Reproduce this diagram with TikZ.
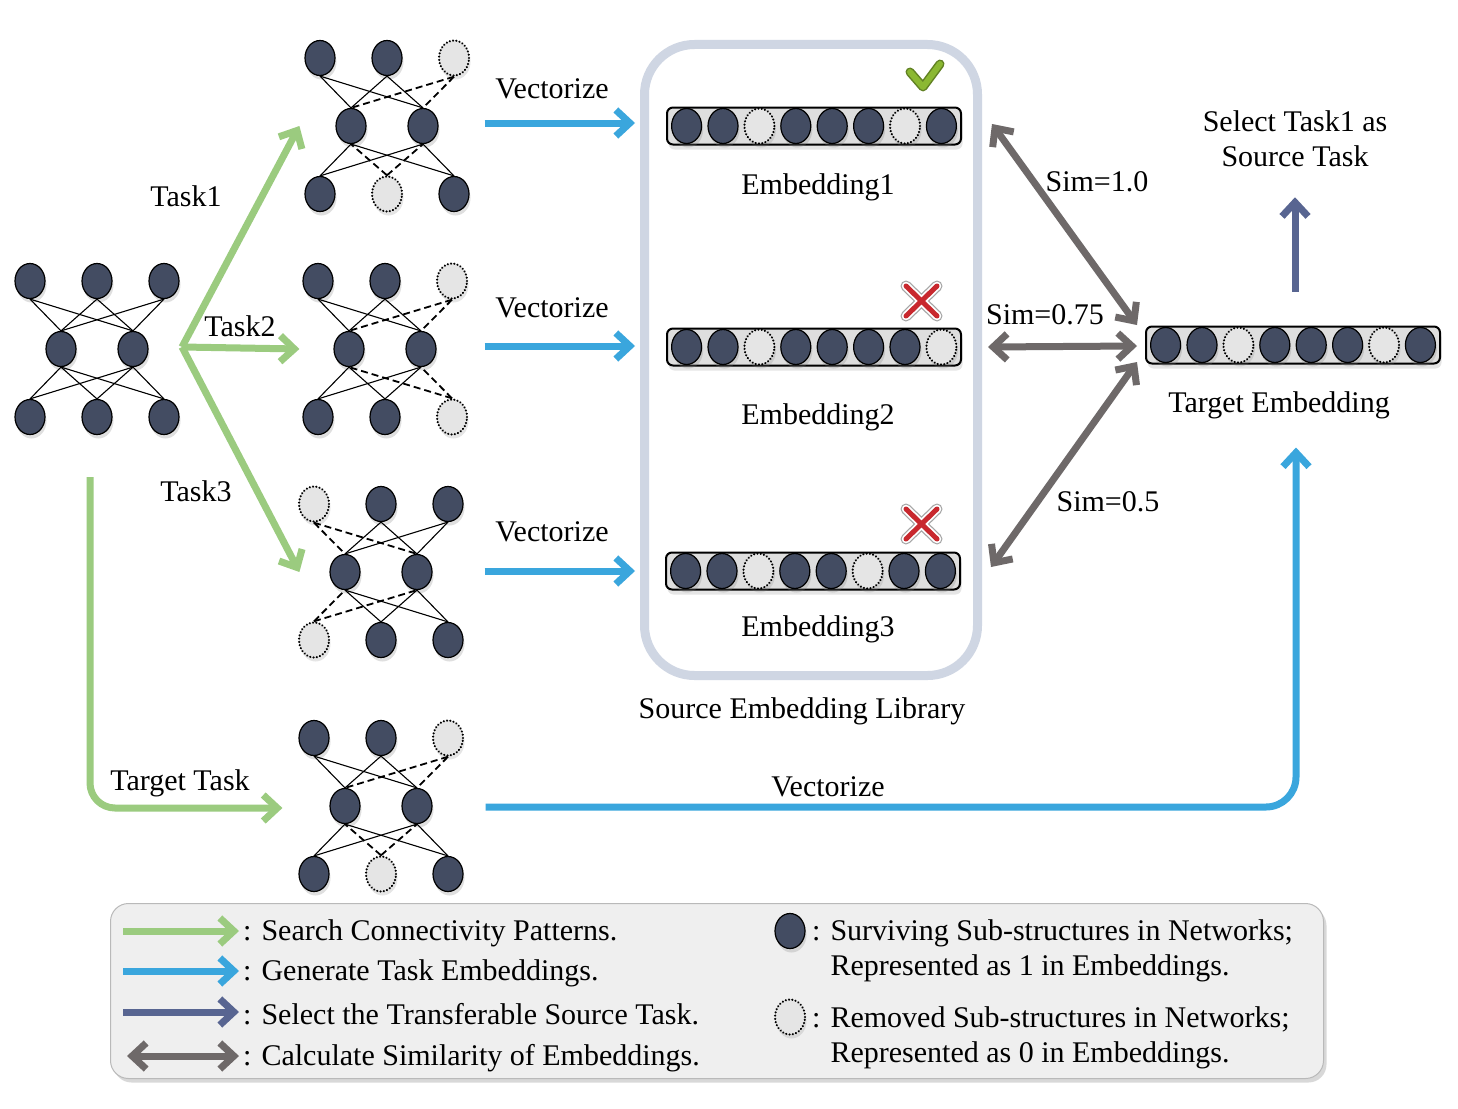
\documentclass[tikz,border=0pt]{standalone}
\usepackage{fontspec}
\setmainfont{Liberation Serif}
\usetikzlibrary{shapes.geometric,arrows.meta,positioning,calc,shadows}

\definecolor{searchgreen}{RGB}{155,203,127}
\definecolor{genblue}{RGB}{58,166,221}
\definecolor{selslate}{RGB}{88,101,145}
\definecolor{simgray}{RGB}{110,105,105}
\definecolor{unitdark}{RGB}{67,76,98}
\definecolor{unitlight}{RGB}{229,229,229}
\definecolor{barfill}{RGB}{222,222,222}
\definecolor{libframe}{RGB}{207,214,227}
\definecolor{legendfill}{RGB}{239,239,239}
\definecolor{checkgreen}{RGB}{139,184,50}
\definecolor{crossred}{RGB}{200,40,46}

% one small network: name, centre, top row, bottom row
\newcommand{\drawnet}[4]{%
  \begin{scope}[shift={#2}]
    \node[live] (#1-m1) at (-36,0) {};
    \node[live] (#1-m2) at (36,0) {};
    \foreach \s [count=\i] in {#3} {
      \node[\s] (#1-t\i) at ({(\i-2)*67},-68) {};
      \foreach \j in {1,2}
        \draw[\s link] (#1-t\i.south) -- (#1-m\j.north);
    }
    \foreach \s [count=\i] in {#4} {
      \node[\s] (#1-b\i) at ({(\i-2)*67},68) {};
      \foreach \j in {1,2}
        \draw[\s link] (#1-b\i.north) -- (#1-m\j.south);
    }
  \end{scope}}

% one embedding bar: name, centre, cells
\newcommand{\drawemb}[3]{%
  \node[bar] (#1) at #2 {};
  \foreach \s [count=\i] in {#3}
    \node[\s] (#1-c\i) at ($(#1)+({(\i-4.5)*36.4},0)$) {};}

\begin{document}
\begin{tikzpicture}[
    x=1pt, y=-1pt,
    txt/.style={font=\fontsize{30}{35}\selectfont, inner sep=0pt},
    live/.style={ellipse, draw=black, line width=1.2pt, fill=unitdark,
      minimum width=30pt, minimum height=35pt, inner sep=0pt,
      drop shadow={shadow xshift=1.5pt, shadow yshift=-4pt, opacity=0.25}},
    dead/.style={ellipse, draw=black, line width=2.4pt, line cap=round,
      dash pattern=on 0.01pt off 3.3pt, fill=unitlight,
      minimum width=30pt, minimum height=35pt, inner sep=0pt,
      drop shadow={shadow xshift=1.5pt, shadow yshift=-4pt, opacity=0.2}},
    livelink/.style={draw=black, line width=1.1pt},
    deadlink/.style={draw=black, line width=1.8pt, dash pattern=on 7pt off 4pt},
    bar/.style={draw=black, line width=2pt, fill=barfill, rounded corners=6pt,
      minimum width=294pt, minimum height=37pt,
      drop shadow={shadow xshift=1.5pt, shadow yshift=-5pt, opacity=0.2}},
    library/.style={draw=libframe, line width=9pt, rounded corners=50pt,
      minimum width=333pt, minimum height=631pt},
    legendbox/.style={draw=gray!55, line width=1pt, fill=legendfill,
      rounded corners=18pt, minimum width=1213pt, minimum height=175pt,
      drop shadow={shadow xshift=3pt, shadow yshift=-4pt, opacity=0.3}},
    searcharrow/.style={draw=searchgreen, line width=7pt, -{Straight Barb[length=14pt, width=26pt]}},
    genarrow/.style={draw=genblue, line width=7pt, -{Straight Barb[length=14pt, width=26pt]}},
    selarrow/.style={draw=selslate, line width=7pt, -{Straight Barb[length=14pt, width=26pt]}},
    simarrow/.style={draw=simgray, line width=7pt,
      {Straight Barb[length=14pt, width=26pt]}-{Straight Barb[length=14pt, width=26pt]}}
]
\useasboundingbox (0,0) rectangle (1458,1108);
\fill[white] (0,0) rectangle (1458,1108);

% legend frame and library frame
\node[legendbox] (legend) at (717,991) {};
\node[library] (lib) at (811,360) {};

% networks
\drawnet{src}{(97,349)}{live,live,live}{live,live,live}
\drawnet{task1}{(387,126)}{live,live,dead}{live,dead,live}
\drawnet{task2}{(385,349)}{live,live,dead}{live,live,dead}
\drawnet{task3}{(381,572)}{dead,live,live}{dead,live,live}
\drawnet{target}{(381,806)}{live,live,dead}{live,dead,live}

% embeddings
\drawemb{emb1}{(814,126)}{live,live,dead,live,live,live,dead,live}
\drawemb{emb2}{(814,347)}{live,live,dead,live,live,live,live,dead}
\drawemb{emb3}{(813,571)}{live,live,dead,live,live,dead,live,live}
\drawemb{tgt}{(1293,345)}{live,live,dead,live,live,live,dead,live}

% check and crosses
\draw[checkgreen!70!black, line width=9pt, line cap=round, line join=round]
  (910,72) -- (923,87) -- (940,64);
\draw[checkgreen, line width=6pt, line cap=round, line join=round]
  (910,72) -- (923,87) -- (940,64);
\foreach \cy in {301,524} {
  \foreach \w/\c in {11/gray!70, 8.5/white, 5/crossred}
    \draw[\c, line width=\w pt, line cap=round]
      (906,\cy-15) -- (937,\cy+15) (906,\cy+15) -- (937,\cy-15);
}

% search arrows
\coordinate (fork) at (182,347);
\draw[searcharrow] (fork) -- ($(task1-m1.west)+(-36,0)$);
\draw[searcharrow] (fork) -- ($(task2-m1.west)+(-34,0)$);
\draw[searcharrow] (fork) -- ($(task3-m1.west)+(-30,0)$);
\draw[searcharrow, rounded corners=25pt] ($(src-b2.south)+(-7,42)$) |- ($(target-m1.west)+(-47,2)$);

% vectorize arrows
\draw[genarrow] ($(task1-m2.east)+(46,-3)$) -- ($(lib.west |- task1-m2)+(-5,-3)$);
\draw[genarrow] ($(task2-m2.east)+(48,-3)$) -- ($(lib.west |- task2-m2)+(-5,-3)$);
\draw[genarrow] ($(task3-m2.east)+(52,-1)$) -- ($(lib.west |- task3-m2)+(-5,-1)$);
\draw[genarrow, rounded corners=30pt] ($(target-m2.east)+(53,1)$) -| ($(tgt.south)+(3,83)$);

% similarity arrows
\draw[simarrow] ($(emb1.east)+(30,-2)$) -- ($(tgt.west)+(-8,-20)$);
\draw[simarrow] ($(emb2.east)+(26,0)$) -- ($(tgt.west)+(-8,1)$);
\draw[simarrow] ($(emb3.east)+(30,-4)$) -- ($(tgt.west)+(-8,17)$);

% select arrow
\node[txt, align=center] (sel) at (1295,139) {Select Task1 as\\Source Task};
\draw[selarrow] ($(tgt.north)+(2,-34)$) -- ($(sel.south)+(0,30)$);

% labels
\node[txt] (lbl-task1) at (186,196) {Task1};
\node[txt] (lbl-task2) at (240,326) {Task2};
\node[txt] (lbl-task3) at (196,491) {Task3};
\node[txt] (lbl-target) at (180,783) {Target Task};
\node[txt] (vec1) at (552,89) {Vectorize};
\node[txt] (vec2) at (552,308) {Vectorize};
\node[txt] (vec3) at (552,532) {Vectorize};
\node[txt] (vec4) at (828,787) {Vectorize};
\node[txt] (emb1-lbl) at (818,187) {Embedding1};
\node[txt] (emb2-lbl) at (818,417) {Embedding2};
\node[txt] (emb3-lbl) at (818,629) {Embedding3};
\node[txt] (lib-lbl) at (802,711) {Source Embedding Library};
\node[txt] (tgt-lbl) at (1279,405) {Target Embedding};
\node[txt] (sim1) at (1097,182) {Sim=1.0};
\node[txt] (sim2) at (1045,315) {Sim=0.75};
\node[txt] (sim3) at (1108,502) {Sim=0.5};

% legend entries
\node[txt, anchor=west] (lg-t1) at (243,933) {: Search Connectivity Patterns.};
\node[txt, anchor=west] (lg-t2) at (243,973) {: Generate Task Embeddings.};
\node[txt, anchor=west] (lg-t3) at (243,1014) {: Select the Transferable Source Task.};
\node[txt, anchor=west] (lg-t4) at (243,1058) {: Calculate Similarity of Embeddings.};
\draw[searcharrow] ($(lg-t1.west)+(-120,-2)$) -- ($(lg-t1.west)+(-4,-2)$);
\draw[genarrow] ($(lg-t2.west)+(-120,-2)$) -- ($(lg-t2.west)+(-4,-2)$);
\draw[selarrow] ($(lg-t3.west)+(-120,-2)$) -- ($(lg-t3.west)+(-4,-2)$);
\draw[simarrow] ($(lg-t4.west)+(-116,-2)$) -- ($(lg-t4.west)+(-4,-2)$);

\node[live] (lg-live) at (790,931) {};
\node[dead] (lg-dead) at (790,1017) {};
\node[txt, anchor=west, align=left] (lg-t5) at (812,951)
  {: Surviving Sub-structures in Networks;\\\hphantom{: }Represented as 1 in Embeddings.};
\node[txt, anchor=west, align=left] (lg-t6) at (812,1038)
  {: Removed Sub-structures in Networks;\\\hphantom{: }Represented as 0 in Embeddings.};
\end{tikzpicture}
\end{document}
